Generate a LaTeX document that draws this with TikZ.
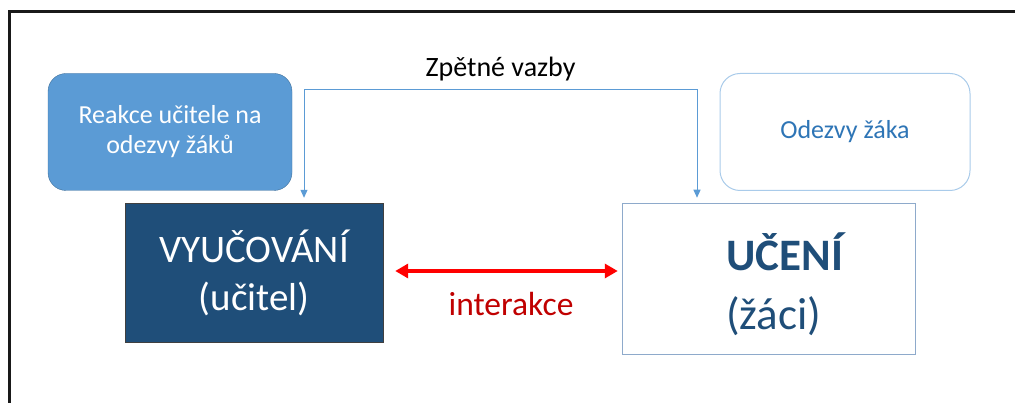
\documentclass[tikz,border=0pt]{standalone}
\usepackage{fontspec}
\setmainfont{Carlito}
\usetikzlibrary{arrows.meta, positioning, calc}
\definecolor{cMid}{HTML}{5B9BD5}
\definecolor{cMidDark}{HTML}{41719C}
\definecolor{cLight}{HTML}{A9CBEA}
\definecolor{cText}{HTML}{2E75B6}
\definecolor{cNavy}{HTML}{1F4E79}
\definecolor{cEdgeBlue}{HTML}{8EAACB}
\definecolor{cRed}{HTML}{FF0000}
\definecolor{cDarkRed}{HTML}{C00000}
\tikzset{
	reakcebox/.style={rectangle, rounded corners=18pt, minimum width=244pt, minimum height=117pt, inner sep=0pt, align=center, draw=cMidDark, fill=cMid, text=white, font=\fontsize{26}{30}\selectfont},
	odezvybox/.style={rectangle, rounded corners=20pt, minimum width=250pt, minimum height=117pt, inner sep=0pt, align=center, draw=cLight, line width=1pt, fill=white, text=cText, font=\fontsize{26}{30}\selectfont},
	ucitelbox/.style={rectangle, minimum width=258pt, minimum height=139pt, inner sep=0pt, align=center, draw=black!75, fill=cNavy, text=white, font=\fontsize{39}{48}\selectfont},
	zacibox/.style={rectangle, minimum width=293pt, minimum height=151pt, inner sep=0pt, draw=cEdgeBlue, line width=1.5pt, fill=white},
	fbarrow/.style={{Triangle[length=8pt, width=7pt]}-{Triangle[length=8pt, width=7pt]}, draw=cMid, line width=1pt},
	interarrow/.style={{Triangle[length=13pt, width=14pt]}-{Triangle[length=13pt, width=14pt]}, draw=cRed, line width=4pt},
}

\begin{document}
\begin{tikzpicture}[x=1pt, y=-1pt,
					lbl/.style={inner sep=0pt, anchor=base}]
	\useasboundingbox (0,0) rectangle (1015,403);
	% frame of the slide
	\draw[line width=3pt, black!90] (9.5,403) |- (1015,11.5);

	\node[reakcebox] (reakce) at (170,132) {Reakce učitele na\\odezvy žáků};
	\node[odezvybox] (odezvy) at (845,132) {Odezvy žáka};
	\node[ucitelbox] (vyuc) at (254,272.5) {VYUČOVÁNÍ\\(učitel)};
	\node[zacibox] (uceni) at (769,279) {};
	\node[lbl, anchor=base west, text=cNavy, font=\fontsize{45}{54}\selectfont\bfseries] (uceniT) at (726,271) {UČENÍ};
	\node[lbl, anchor=base west, text=cNavy, font=\fontsize{45}{54}\selectfont] (zaciT) at (726,330) {(žáci)};

	% zpetne vazby
	\coordinate (fbL) at (304,89.5);
	\coordinate (fbR) at (697,89.5);
	\draw[fbarrow] ([yshift=5pt]fbL |- vyuc.north) -- (fbL) -- (fbR) -- ([yshift=5pt]fbR |- uceni.north);
	\node[lbl, font=\fontsize{28}{32}\selectfont] (fblabel) at ($(fbL)!0.5!(fbR)+(0,-12.5)$) {Zpětné vazby};

	% interakce
	\draw[interarrow] ([xshift=12pt,yshift=1.5pt]vyuc.east) -- ([xshift=-4pt,yshift=1.5pt]vyuc.east -| uceni.west);
	\node[lbl, text=cDarkRed, font=\fontsize{33.5}{38}\selectfont] (interlbl) at (511,316) {interakce};
\end{tikzpicture}
\end{document}
